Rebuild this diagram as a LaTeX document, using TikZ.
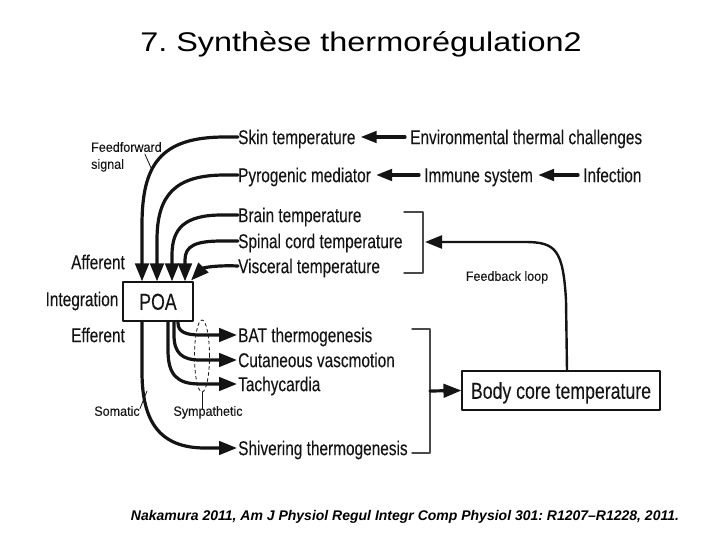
\documentclass[tikz,border=0pt]{standalone}
\usepackage{fontspec}
\setmainfont{Liberation Sans}
\newfontfamily\narrowsans[FakeStretch=0.77,FakeBold=0.12]{Liberation Sans}
\newfontfamily\notesans[FakeStretch=0.93,FakeBold=0.08]{Liberation Sans}
\newfontfamily\widesans[FakeStretch=1.2]{Liberation Sans}
\usepackage{tikz}
\usetikzlibrary{arrows.meta,calc,shapes.geometric}
\definecolor{Ink}{HTML}{141414}
\definecolor{BracketGray}{HTML}{4A4A4A}
\tikzset{
  itemtext/.style={font=\narrowsans\fontsize{20}{22}\selectfont,text=Ink,
    inner sep=0pt,anchor=west,text height=14.3pt,text depth=0pt},
  sidetext/.style={font=\narrowsans\fontsize{20}{22}\selectfont,text=Ink,
    inner sep=0pt,text height=14.3pt,text depth=0pt},
  notetext/.style={font=\notesans\fontsize{13.5}{15}\selectfont,text=Ink,
    inner sep=0pt,text height=9.7pt,text depth=0pt},
  boxnode/.style={draw=Ink,line width=1.1pt,text=Ink,
    font=\narrowsans\fontsize{23}{26}\selectfont,
    text height=16.5pt,text depth=0pt,inner sep=0pt},
  heavy/.style={draw=Ink,line width=3.2pt,-{Triangle[length=18pt,width=13.5pt]}},
  chain/.style={draw=Ink,line width=3.2pt,-{Triangle[length=16pt,width=11.5pt]},
    shorten <=5pt,shorten >=5pt},
  feedarrow/.style={draw=Ink,line width=2.4pt,-{Triangle[length=17pt,width=13pt]}},
  bracketline/.style={draw=BracketGray,line width=1.4pt},
  pointer/.style={draw=Ink,line width=0.8pt}
}
\begin{document}
\frenchspacing
\begin{tikzpicture}[x=1pt,y=-1pt,line cap=round,line join=round]
  \useasboundingbox (0,0) rectangle (720,540);
  \node[font=\widesans\fontsize{27}{32}\selectfont,anchor=base] (title) at (361,52)
    {7. Synthèse thermorégulation2};
  \node[font=\bfseries\itshape\fontsize{14}{16}\selectfont,anchor=base] (cite) at (405,520)
    {Nakamura 2011, Am J Physiol Regul Integr Comp Physiol 301: R1207–R1228, 2011.};

  \node[itemtext] (skin) at (238,137) {Skin temperature};
  \node[itemtext] (pyro) at (238,175) {Pyrogenic mediator};
  \node[itemtext] (brain) at (238,215) {Brain temperature};
  \node[itemtext] (spinal) at (238,241) {Spinal cord temperature};
  \node[itemtext] (visc) at (238,266) {Visceral temperature};
  \node[itemtext] (env) at (410,137) {Environmental thermal challenges};
  \node[itemtext] (immune) at (424,175) {Immune system};
  \node[itemtext] (infect) at (583,175) {Infection};
  \node[itemtext] (bat) at (238,335) {BAT thermogenesis};
  \node[itemtext] (cut) at (238,360) {Cutaneous vascmotion};
  \node[itemtext] (tachy) at (238,384) {Tachycardia};
  \node[itemtext] (shiv) at (238,448) {Shivering thermogenesis};

  \node[sidetext] (afferent) at (98,262) {Afferent};
  \node[sidetext] (integ) at (82,299) {Integration};
  \node[sidetext] (efferent) at (98,335) {Efferent};
  \node[notetext,anchor=west] (ffw) at (91,147) {Feedforward};
  \node[notetext,anchor=west] (ffwb) at (91,164) {signal};
  \node[notetext] (somatic) at (117,411) {Somatic};
  \node[notetext] (symp) at (208,411) {Sympathetic};
  \node[notetext] (fbloop) at (507,276) {Feedback loop};

  \node[boxnode,minimum width=70,minimum height=39] (poa) at (158,301.5) {POA};
  \node[boxnode,minimum width=198,minimum height=39] (core) at (561,390.5)
    {Body core temperature};

  \draw[chain] (env) -- (skin);
  \draw[chain] (immune) -- (pyro);
  \draw[chain] (infect) -- (immune);

  \coordinate (poa in1) at ([xshift=-16]poa.north);
  \coordinate (poa in2) at ([xshift=-1]poa.north);
  \coordinate (poa in3) at ([xshift=14]poa.north);
  \coordinate (poa in4) at ([xshift=27]poa.north);
  \coordinate (poa in5) at ([xshift=33,yshift=1]poa.north);
  \draw[heavy] (skin.west) -- (225,137) .. controls (160,137) and (142,165) .. (142,225)
    -- (poa in1);
  \draw[heavy] (pyro.west) -- (225,175) .. controls (175,175) and (157,195) .. (157,240)
    -- (poa in2);
  \draw[heavy] (brain.west) -- (222,215) .. controls (185,215) and (172,228) .. (172,255)
    -- (poa in3);
  \draw[heavy] (spinal.west) -- (222,241) .. controls (195,241) and (185,246) .. (185,260)
    -- (poa in4);
  \draw[heavy] (visc.west) .. controls (215,265) and (203,268) .. (poa in5);

  \coordinate (poa out1) at ([xshift=-16]poa.south);
  \coordinate (poa out2) at ([xshift=10]poa.south);
  \coordinate (poa out3) at ([xshift=16]poa.south);
  \coordinate (poa out4) at ([xshift=20]poa.south);
  \draw[heavy] (poa out4) -- (178,323) .. controls (178,332) and (186,335) .. (200,335)
    -- ([xshift=-1]bat.west);
  \draw[heavy] (poa out3) -- (174,335) .. controls (174,353) and (182,360) .. (200,360)
    -- ([xshift=-1]cut.west);
  \draw[heavy] (poa out2) -- (168,350) .. controls (168,375) and (177,384) .. (200,384)
    -- ([xshift=-1]tachy.west);
  \draw[heavy] (poa out1) -- (142,372) .. controls (142,422) and (160,448) .. (205,448)
    -- ([xshift=-1]shiv.west);

  \node[draw=Ink,dashed,line width=0.8pt,ellipse,minimum width=15,minimum height=72,
        inner sep=0pt] (symp ring) at (202,356) {};
  \draw[pointer] (symp ring.south) -- ([xshift=-6,yshift=-3]symp.north);
  \coordinate (soma tap) at (147,391);
  \draw[pointer] (soma tap) -- ([yshift=-3]somatic.north east);
  \coordinate (ffw tap) at (152,170);
  \draw[pointer] ([xshift=-17,yshift=-2]ffw.south east) -- (ffw tap);

  \draw[bracketline] (404,212) -- (423,212) -- (423,273) -- (404,273);
  \draw[bracketline] (412,329) -- (430,329) -- (430,453) -- (412,453);
  \coordinate (fb in) at (425,242);
  \coordinate (fb top) at ([xshift=6]core.north);
  \draw[feedarrow] (fb top) -- (566,300) .. controls (563,250) and (556,242) .. (525,242)
    -- (fb in);
  \coordinate (eff out) at (430,391);
  \draw[heavy] (eff out) -- (core.west);
\end{tikzpicture}
\end{document}
